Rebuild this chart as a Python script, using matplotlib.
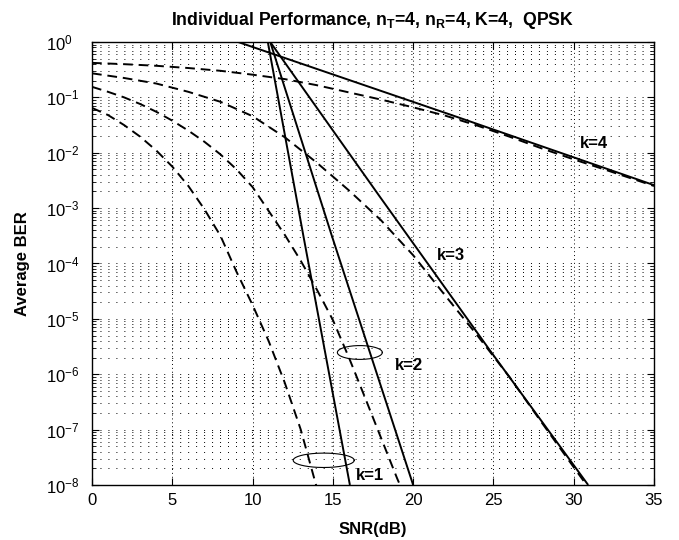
"""个体用户 BER 曲线：nT=4, nR=4, K=4, QPSK
实线 = 渐近近似，虚线 = 精确结果。
"""
import numpy as np
import matplotlib
matplotlib.use("Agg")  # 无头模式
import matplotlib.pyplot as plt
from matplotlib.ticker import LogLocator, MultipleLocator, NullFormatter, FixedLocator

plt.rcParams["font.family"] = ["Liberation Sans", "DejaVu Sans"]
plt.rcParams["mathtext.fontset"] = "custom"
plt.rcParams["mathtext.rm"] = "Liberation Sans"
plt.rcParams["mathtext.it"] = "Liberation Sans:italic"
plt.rcParams["mathtext.bf"] = "Liberation Sans:bold"
plt.rcParams["mathtext.default"] = "regular"

# ---- 数据----
# 实线：近似直线
k1_solid_snr = [10.95, 13.16, 16.06]
k1_solid_ber = [1.0, 3.2e-4, 1e-8]
k2_solid_snr = [11.1, 14.93, 20.0]
k2_solid_ber = [1.0, 3.2e-4, 1e-8]
k3_solid_snr = [11.1, 17.93, 24.78, 30.9]
k3_solid_ber = [1.0, 1.6e-3, 2.7e-6, 1e-8]
k4_solid_snr = [9.1, 22.3, 35.0]
k4_solid_ber = [1.0, 4.9e-2, 2.6e-3]

# 虚线：精确曲线
k1_exact_snr = [0, 1, 2, 3, 4, 5, 6, 7, 8, 9, 10, 11, 12, 13, 14]
k1_exact_ber = [6.46e-2, 4.79e-2, 3.16e-2, 1.95e-2, 1.10e-2, 5.62e-3, 2.51e-3,
                9.55e-4, 3.16e-4, 7.08e-5, 1.78e-5, 3.98e-6, 7.08e-7, 1.0e-7, 8.9e-9]
k2_exact_snr = [0, 1, 2, 3, 4, 5, 6, 7, 8, 9, 10, 11, 12, 13, 14, 15, 16, 17, 18, 19, 19.4]
k2_exact_ber = [0.155, 0.126, 0.100, 7.59e-2, 5.50e-2, 3.80e-2, 2.51e-2, 1.58e-2,
                9.33e-3, 5.01e-3, 2.40e-3, 8.91e-4, 3.31e-4, 1.12e-4, 3.39e-5,
                9.55e-6, 2.0e-6, 3.8e-7, 7.08e-8, 1.32e-8, 7.08e-9]
k3_exact_snr = [0, 2, 4, 6, 8, 10, 12, 14, 16, 18, 20, 22, 24, 26, 28, 30, 31]
k3_exact_ber = [0.272, 0.224, 0.178, 0.126, 8.32e-2, 4.57e-2, 1.91e-2, 6.61e-3,
                2.09e-3, 6.03e-4, 1.41e-4, 2.63e-5, 5.01e-6, 8.91e-7, 1.35e-7,
                2.09e-8, 8.3e-9]
k4_exact_snr = [0, 2, 4, 6, 8, 10, 12, 14, 16, 18, 20, 22, 24, 26, 28, 30, 32, 35]
k4_exact_ber = [0.42, 0.398, 0.372, 0.339, 0.302, 0.257, 0.214, 0.166, 0.123,
                9.12e-2, 6.61e-2, 4.68e-2, 3.09e-2, 1.95e-2, 1.20e-2, 7.59e-3,
                4.90e-3, 2.51e-3]

# 坐标轴刻度
x_ticks = [0, 5, 10, 15, 20, 25, 30, 35]
y_ticks = [1e-8, 1e-7, 1e-6, 1e-5, 1e-4, 1e-3, 1e-2, 1e-1, 1e0]

# 标注：文字 (x, y, 文本)
labels = [(30.4, 1.45e-2, "k=4"), (21.46, 1.4e-4, "k=3"),
          (18.87, 1.45e-6, "k=2"), (16.44, 1.5e-8, "k=1")]
# 椭圆：中心 snr, 中心 ber, 宽(dB), 高(十倍程)
ellipses = [(14.43, 2.79e-8, 3.8, 0.26), (16.68, 2.47e-6, 2.8, 0.25)]

fig = plt.figure(figsize=(6.79, 5.40), dpi=100)
ax = fig.add_axes([0.1355, 0.1019, 0.8277, 0.8203])

for snr, ber in [(k1_solid_snr, k1_solid_ber), (k2_solid_snr, k2_solid_ber),
                 (k3_solid_snr, k3_solid_ber), (k4_solid_snr, k4_solid_ber)]:
    ax.semilogy(snr, ber, color="black", lw=1.4, solid_capstyle="butt")

for snr, ber in [(k1_exact_snr, k1_exact_ber), (k2_exact_snr, k2_exact_ber),
                 (k3_exact_snr, k3_exact_ber), (k4_exact_snr, k4_exact_ber)]:
    ax.semilogy(snr, ber, color="black", lw=1.4, linestyle=(0, (5, 3)),
                dash_capstyle="butt")

t = np.linspace(0, 2 * np.pi, 200)
for cx, cy, w, h in ellipses:
    ex = cx + w / 2 * np.cos(t)
    ey = 10 ** (np.log10(cy) + h / 2 * np.sin(t))
    ax.plot(ex, ey, color="black", lw=0.8)

for x, y, s in labels:
    ax.text(x, y, s, fontsize=12, fontweight="bold", va="center", ha="left")

ax.set_xlim(0, 35)
ax.set_ylim(1e-8, 1)
ax.set_xticks(x_ticks)
ax.set_yticks(y_ticks)
minor = [m * d for d in y_ticks[:-1] for m in range(2, 10)]
ax.yaxis.set_minor_locator(FixedLocator(minor))
ax.yaxis.set_minor_formatter(NullFormatter())

# 网格：横向稀疏点线，纵向只在主刻度
ax.grid(True, which="both", axis="y", color="black", lw=0.7, linestyle=(0, (1, 7.2)))
ax.grid(True, which="major", axis="x", color="black", lw=0.7, linestyle=(0, (1, 3)))

ax.tick_params(which="both", direction="in", top=True, right=True, labelsize=12)
ax.tick_params(which="major", length=5, width=0.8)
ax.tick_params(which="minor", length=3, width=0.6)
ax.tick_params(axis="x", pad=6)
# y 刻度文字左对齐（10 的底数对齐），与 MATLAB 类似
ax.tick_params(axis="y", pad=33)
for lab in ax.get_yticklabels():
    lab.set_horizontalalignment("left")
for sp in ax.spines.values():
    sp.set_linewidth(1.0)

ax.set_xlabel("SNR(dB)", fontsize=12, fontweight="bold")
ax.set_ylabel("Average BER", fontsize=12, fontweight="bold")
ax.xaxis.set_label_coords(0.5, -0.083)
ax.yaxis.set_label_coords(-0.110, 0.5)
ax.set_title(r"Individual Performance, n$_\mathbf{T}$=4, n$_\mathbf{R}$=4, K=4,  QPSK",
             fontsize=12.7, fontweight="bold", pad=12)

fig.savefig("out.png", dpi=100)
